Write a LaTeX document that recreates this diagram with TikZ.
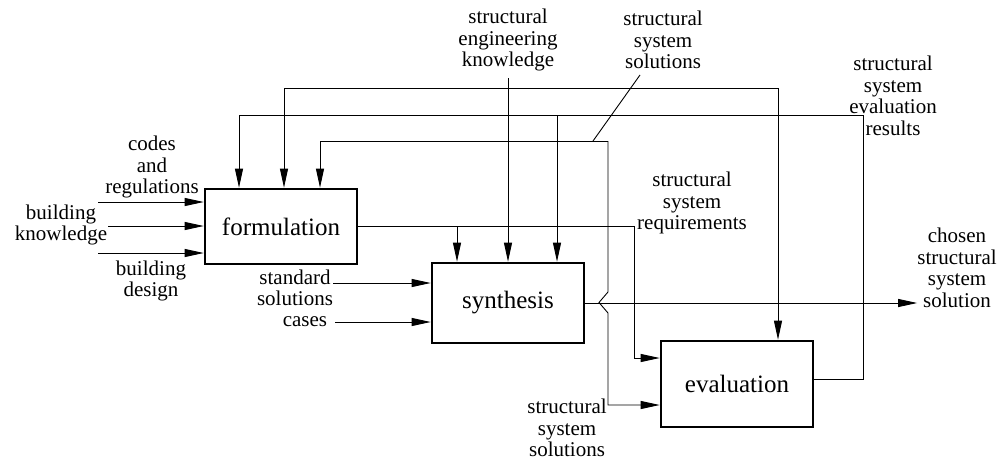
\documentclass[tikz,border=0pt]{standalone}
\usepackage{fontspec}
\setmainfont{Liberation Serif}
\usetikzlibrary{arrows.meta}

\tikzset{
  box/.style={draw, line width=2.6pt, minimum width=152pt, inner sep=0pt,
              font=\fontsize{25}{25}\selectfont},
  lbl/.style={align=center, inner sep=0pt, font=\fontsize{21}{21.5}\selectfont},
  wire/.style={line width=0.9pt},
  arr/.style={wire, -{Triangle[length=19pt,width=8pt]}}
}

\begin{document}
\begin{tikzpicture}[x=1pt, y=-1pt]
\useasboundingbox (0,0) rectangle (1001,461);

% activity boxes
\node[box, minimum height=75pt] (form) at (281,226.5) {formulation};
\node[box, minimum height=80pt] (synth) at (508,303) {synthesis};
\node[box, minimum height=86pt] (eval) at (737,384) {evaluation};

% labels
\node[lbl] (codes) at (152,167) {codes\\and\\regulations};
\node[lbl] (bknow) at (61,225) {building\\knowledge};
\node[lbl] (bdes) at (151,281) {building\\design};
\node[lbl] (stdsol) at (295,288) {standard\\solutions};
\node[lbl] (cases) at (305,322) {cases};
\node[lbl] (seknow) at (508,40) {structural\\engineering\\knowledge};
\node[lbl] (sstop) at (663,40) {structural\\system\\solutions};
\node[lbl] (sser) at (893,96) {structural\\system\\evaluation\\results};
\node[lbl] (ssreq) at (692,203) {structural\\system\\requirements};
\node[lbl] (chosen) at (957,268) {chosen\\structural\\system\\solution};
\node[lbl] (ssbot) at (567,428) {structural\\system\\solutions};

% free ends and branch points
\coordinate (inCodes) at (98,202);
\coordinate (inKnow) at (108,226);
\coordinate (inDes) at (98,253);
\coordinate (inStd) at (333,283);
\coordinate (inCases) at (335,322);
\coordinate (knTop) at (508,78);
\coordinate (kn88) at (508,88);
\coordinate (fbCorner) at (863,115);
\coordinate (fbBranch) at (557,115);
\coordinate (reqBranch) at (457,226);
\coordinate (reqCorner) at (634,358);
\coordinate (solTop) at (608,141);
\coordinate (solCorner) at (608,405);
\coordinate (leadA) at (593,141);
\coordinate (leadB) at (640,75);

% inputs to formulation
\draw[arr] (inCodes) -- (inCodes -| form.west);
\draw[arr] (inKnow) -- (inKnow -| form.west);
\draw[arr] (inDes) -- (inDes -| form.west);

% inputs to synthesis
\draw[arr] (inStd) -- (inStd -| synth.west);
\draw[arr] (inCases) -- (inCases -| synth.west);

% structural engineering knowledge to all three activities
\draw[arr] (knTop) -- (synth.north);
\draw[arr] (kn88) -| ([xshift=3pt]form.north);
\draw[arr] (kn88) -| ([xshift=41pt]eval.north);

% evaluation results fed back
\draw[wire] ([yshift=5pt]eval.east) -| (fbCorner);
\draw[arr] (fbCorner) -| ([xshift=-42pt]form.north);
\draw[arr] (fbBranch) -- (fbBranch |- synth.north);

% requirements from formulation
\draw[arr] ([yshift=0.5pt]form.east) -| (reqCorner) -- (reqCorner -| eval.west);
\draw[arr] (reqBranch) -- (reqBranch |- synth.north);

% structural system solutions, hopping over the synthesis output
\draw[arr] (solTop) -| ([xshift=39pt]form.north);
\draw[arr] (solTop) -- (608,292) -- (599,302.5) -- (608,313) -- (solCorner)
  -- (solCorner -| eval.west);
\draw[wire] (leadA) -- (leadB);

% chosen solution
\draw[arr] (synth.east) -- (synth.east -| chosen.west);
\end{tikzpicture}
\end{document}
